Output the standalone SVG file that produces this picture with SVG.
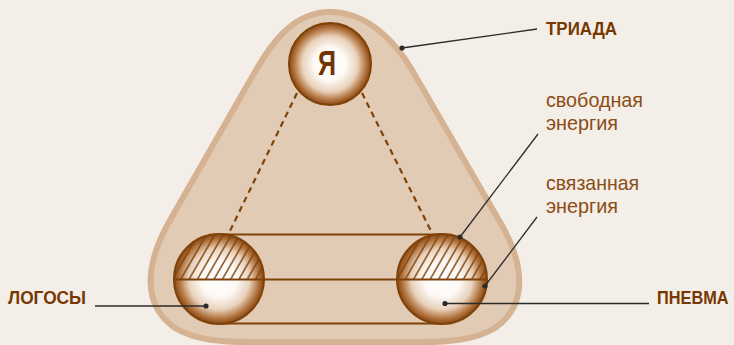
<svg xmlns="http://www.w3.org/2000/svg" width="734" height="345" viewBox="0 0 734 345">
<style>
.bl{stroke:#7f4208;stroke-width:2;fill:none}
.dash{stroke:#7f4208;stroke-width:2.2;fill:none;stroke-dasharray:6 4.5}
.lead{stroke:#2b2b2b;stroke-width:1.3;fill:none}
.dot{fill:#2b2b2b}
.ball{fill:url(#ball);stroke:#7f4208;stroke-width:2}
.hatch{fill:url(#hatch)}
.labb{font-family:"Liberation Sans",Arial,sans-serif;font-weight:bold;font-size:19px;fill:#763800}
.lab{font-family:"Liberation Sans",Arial,sans-serif;font-size:21px;fill:#8c4c14}
</style>
<defs>
<radialGradient id="ball" cx="0.5" cy="0.5" r="0.5">
<stop offset="0" stop-color="#ffffff"/>
<stop offset="0.4" stop-color="#fdf9f5"/>
<stop offset="0.68" stop-color="#e8d1bb"/>
<stop offset="0.88" stop-color="#b27540"/>
<stop offset="1" stop-color="#8a4813"/>
</radialGradient>
<pattern id="hatch" patternUnits="userSpaceOnUse" width="7.2" height="20" patternTransform="rotate(30)">
<line x1="1" y1="-2" x2="1" y2="22" stroke="#80420a" stroke-width="1.4"/>
</pattern>
<clipPath id="hl"><path d="M174 279.5 A45 45 0 0 1 264 279.5 Z"/></clipPath>
<clipPath id="hr"><path d="M397 279.5 A45 45 0 0 1 487 279.5 Z"/></clipPath>
</defs>
<rect width="734" height="345" fill="#f3eee8"/>
<g id="triad">
<path d="M330 12 C370 12 398 46 412 70 L500 222 C525 265 528 305 495 328 C475 340 450 342 420 342 L250 342 C220 342 195 340 175 328 C142 305 145 265 169 222 L256 70 C270 46 292 12 330 12 Z" fill="#e2cbb4" stroke="#d5b392" stroke-width="6"/>
</g>
<g id="connectors">
<line class="dash" x1="297" y1="93" x2="228" y2="235"/>
<line class="dash" x1="362" y1="93" x2="433" y2="235"/>
<line class="bl" x1="219" y1="234.5" x2="442" y2="234.5"/>
<line class="bl" x1="219" y1="323.5" x2="442" y2="323.5"/>
</g>
<g id="ya">
<circle class="ball" cx="330" cy="64" r="41"/>
<text x="327" y="75" text-anchor="middle" font-family="Liberation Sans, Arial, sans-serif" font-weight="bold" font-size="35" fill="#703500" textLength="18" lengthAdjust="spacingAndGlyphs">Я</text>
</g>
<g id="logos">
<circle class="ball" cx="219" cy="279" r="45"/>
<rect class="hatch" x="170" y="230" width="100" height="50" clip-path="url(#hl)"/>
</g>
<g id="pneuma">
<circle class="ball" cx="442" cy="279" r="45"/>
<rect class="hatch" x="393" y="230" width="100" height="50" clip-path="url(#hr)"/>
</g>
<g id="link">
<line class="bl" x1="174" y1="279.5" x2="487" y2="279.5"/>
</g>
<g id="leaders">
<line class="lead" x1="402" y1="48" x2="537" y2="29"/>
<circle class="dot" cx="402" cy="48" r="2.6"/>
<line class="lead" x1="460" y1="237" x2="538" y2="134"/>
<circle class="dot" cx="460" cy="237" r="2.6"/>
<line class="lead" x1="485" y1="286" x2="537" y2="217"/>
<circle class="dot" cx="485" cy="286" r="2.6"/>
<line class="lead" x1="95" y1="306" x2="206" y2="306"/>
<circle class="dot" cx="206" cy="306" r="2.6"/>
<line class="lead" x1="445" y1="303.5" x2="649" y2="303.5"/>
<circle class="dot" cx="445" cy="303.5" r="2.6"/>
</g>
<g id="labels">
<text class="labb" x="546" y="35" textLength="71" lengthAdjust="spacingAndGlyphs">ТРИАДА</text>
<text class="lab" x="546" y="107" textLength="97" lengthAdjust="spacingAndGlyphs">свободная</text>
<text class="lab" x="546" y="130" textLength="72" lengthAdjust="spacingAndGlyphs">энергия</text>
<text class="lab" x="546" y="190" textLength="93" lengthAdjust="spacingAndGlyphs">связанная</text>
<text class="lab" x="546" y="213" textLength="72" lengthAdjust="spacingAndGlyphs">энергия</text>
<text class="labb" x="8" y="304" textLength="78" lengthAdjust="spacingAndGlyphs">ЛОГОСЫ</text>
<text class="labb" transform="translate(657 304) scale(0.86 1)">ПНЕВМА</text>
</g>
</svg>
